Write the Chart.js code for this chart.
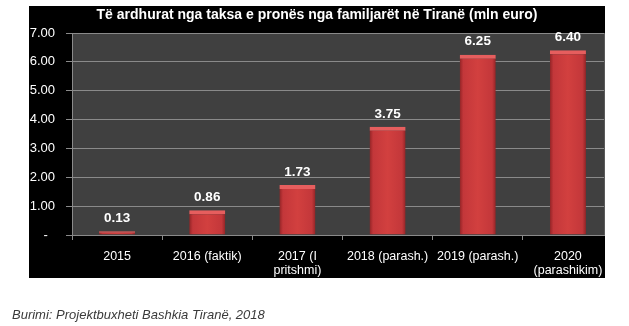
<!DOCTYPE html>
<html>
<head>
<meta charset="utf-8">
<script src="https://cdn.jsdelivr.net/npm/chart.js@4.4.1/dist/chart.umd.min.js"></script>
<style>
  html, body { margin: 0; padding: 0; background: #fff; }
  #wrap { position: relative; width: 629px; height: 326px; }
  #burimi {
    position: absolute; left: 12px; top: 307px;
    font: italic 13px "Liberation Sans", Arial, sans-serif; color: #3a3a3a;
  }
</style>
</head>
<body>
<div id="wrap">
  <canvas id="grafik" width="629" height="326"></canvas>
  <div id="burimi">Burimi: Projektbuxheti Bashkia Tiranë, 2018</div>
</div>
<script>
// të dhënat
const kategorite = ['2015', '2016 (faktik)', ['2017 (I', 'pritshmi)'], '2018 (parash.)', '2019 (parash.)', ['2020', '(parashikim)']];
const vlerat = [0.13, 0.86, 1.73, 3.75, 6.25, 6.40];
const titulli = 'Të ardhurat nga taksa e pronës nga familjarët në Tiranë (mln euro)';

const FONT = '"Liberation Sans", Arial, sans-serif';

// sfondi i zi + zona gri e grafikut
const sfondi = {
    id: 'sfondi',
    beforeDraw(chart) {
        const { ctx, chartArea } = chart;
        ctx.save();
        ctx.fillStyle = '#000';
        ctx.fillRect(29, 6, 576, 272);
        ctx.fillStyle = '#404040';
        ctx.fillRect(chartArea.left, chartArea.top, chartArea.right - chartArea.left, chartArea.bottom - chartArea.top);
        ctx.restore();
    },
    afterDraw(chart) {
        const { ctx } = chart;
        ctx.save();
        // prerja në të djathtë si te origjinali
        ctx.fillStyle = '#fff';
        ctx.fillRect(605, 0, 24, 280);
        ctx.fillStyle = '#5a5a5a';
        ctx.fillRect(604, chart.chartArea.top, 1, chart.chartArea.bottom - chart.chartArea.top);
        // titulli
        ctx.fillStyle = '#fff';
        ctx.font = 'bold 14px ' + FONT;
        ctx.textAlign = 'center';
        ctx.textBaseline = 'middle';
        ctx.fillText(titulli, 317, 15);
        ctx.restore();
    }
};

// etiketat e vlerave mbi shtyllat
const etiketat = {
    id: 'etiketat',
    afterDatasetsDraw(chart) {
        const { ctx } = chart;
        const meta = chart.getDatasetMeta(0);
        ctx.save();
        ctx.fillStyle = '#fff';
        ctx.font = 'bold 13.5px ' + FONT;
        ctx.textAlign = 'center';
        ctx.textBaseline = 'middle';
        meta.data.forEach((bar, i) => {
            ctx.fillText(vlerat[i].toFixed(2), bar.x, bar.y - 13);
        });
        ctx.restore();
    }
};

function ngjyraShtylle(context) {
    const chart = context.chart;
    const x = chart.scales.x;
    if (!x || !chart.chartArea) return '#c23a3a';
    const qendra = x.getPixelForValue(context.dataIndex);
    const gjeresia = (x.width / kategorite.length) * 0.4;
    const g = chart.ctx.createLinearGradient(qendra - gjeresia / 2, 0, qendra + gjeresia / 2, 0);
    g.addColorStop(0, '#922426');
    g.addColorStop(0.1, '#c3373a');
    g.addColorStop(0.5, '#d2403f');
    g.addColorStop(0.9, '#c3373a');
    g.addColorStop(1, '#922426');
    return g;
}

new Chart(document.getElementById('grafik'), {
    type: 'bar',
    data: {
        labels: kategorite,
        datasets: [{
            data: vlerat,
            backgroundColor: ngjyraShtylle,
            borderColor: '#e65e5e',
            borderWidth: { top: 4, left: 0, right: 0, bottom: 0 },
            borderSkipped: 'bottom',
            categoryPercentage: 0.4,
            barPercentage: 1,
        }],
    },
    options: {
        responsive: false,
        animation: false,
        layout: { padding: { left: 29, top: 33, right: 16, bottom: 48 } },
        plugins: {
            legend: { display: false },
            tooltip: { enabled: false },
        },
        scales: {
            x: {
                afterFit(scale) { scale.height = 43; },
                grid: {
                    drawOnChartArea: false,
                    drawTicks: true,
                    tickLength: 5,
                    color: '#8a8a8a',
                },
                border: { color: '#8a8a8a' },
                ticks: {
                    color: '#fff',
                    padding: 10,
                    maxRotation: 0,
                    autoSkip: false,
                    font: { family: FONT, size: 12.5, lineHeight: 1.1 },
                },
            },
            y: {
                min: 0,
                max: 7,
                afterFit(scale) { scale.width = 43; },
                grid: { color: '#8a8a8a', tickLength: 6 },
                border: { color: '#8a8a8a' },
                ticks: {
                    stepSize: 1,
                    color: '#fff',
                    padding: 11,
                    font: { family: FONT, size: 13 },
                    callback: (v) => (v === 0 ? '-  ' : v.toFixed(2)),
                },
            },
        },
    },
    plugins: [sfondi, etiketat],
});
</script>
</body>
</html>
